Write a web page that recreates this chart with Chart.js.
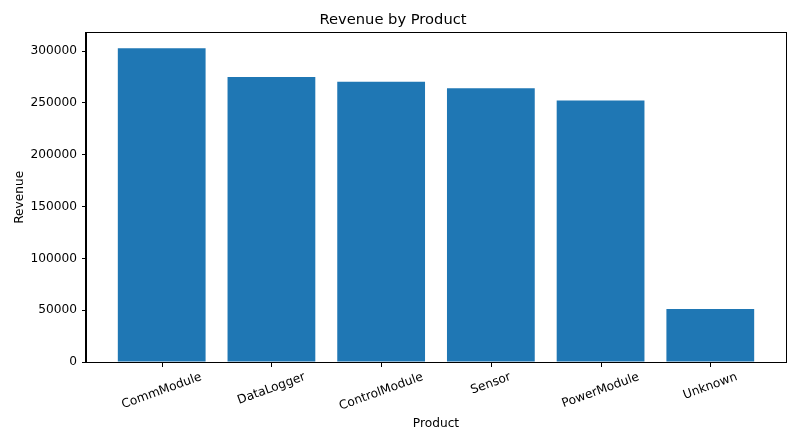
<!DOCTYPE html>
<html>
<head>
<meta charset="utf-8">
<script src="https://cdn.jsdelivr.net/npm/chart.js@4.4.1/dist/chart.umd.min.js"></script>
<style>
  body { margin: 0; background: #fff; }
  #wrap { width: 800px; height: 444px; position: relative; }
</style>
</head>
<body>
<div id="wrap"><canvas id="myChart"></canvas></div>
<script>
const products = ['CommModule', 'DataLogger', 'ControlModule', 'Sensor', 'PowerModule', 'Unknown'];
const revenue = [302600, 274900, 270400, 264200, 252300, 51200];
const yTicks = [0, 50000, 100000, 150000, 200000, 250000, 300000];

const FONT = "'DejaVu Sans', sans-serif";
const BLUE = '#1f77b4';
const TICK_SIZE = 12.2;

// matplotlib style x ticks + labels: rotated 20deg, centred under each tick
const rotatedLabels = {
    id: 'rotatedLabels',
    afterDraw(chart) {
        const c = chart.ctx;
        const xs = chart.scales.x;
        const ca = chart.chartArea;
        const a = 20 * Math.PI / 180;
        const size = TICK_SIZE;
        c.save();
        c.fillStyle = '#000';
        products.forEach(function(p, i) {
            const x = Math.round(xs.getPixelForValue(i));
            c.fillRect(x, Math.round(ca.bottom), 1, 5);
        });
        c.font = size + 'px ' + FONT;
        c.textAlign = 'center';
        c.textBaseline = 'middle';
        products.forEach(function(p, i) {
            const w = c.measureText(p).width;
            const h = size * 1.15;
            const boxH = w * Math.sin(a) + h * Math.cos(a);
            const x = xs.getPixelForValue(i);
            const y = ca.bottom + 8 + boxH / 2;
            c.save();
            c.translate(x, y);
            c.rotate(-a);
            c.fillText(p, 0, 0);
            c.restore();
        });
        // frame (top/right spines)
        c.strokeStyle = '#000';
        c.lineWidth = 1;
        c.strokeRect(Math.round(ca.left) - 0.5, Math.round(ca.top) - 0.5,
            Math.round(ca.right - ca.left) + 1, Math.round(ca.bottom - ca.top) + 1);
        c.restore();
    }
};

let ctx = document.getElementById('myChart');

let myChart = new Chart(ctx, {
    type: 'bar',
    data: {
        datasets: [{
            label: 'Revenue',
            data: revenue.map(function(v, i) { return { x: i, y: v }; }),
            backgroundColor: BLUE,
            borderWidth: 0,
            categoryPercentage: 1.0,
            barPercentage: 0.8
        }]
    },
    options: {
        responsive: true,
        maintainAspectRatio: false,
        devicePixelRatio: 1,
        animation: false,
        layout: {
            padding: { left: 0, right: 14, top: 0, bottom: 0 }
        },
        plugins: {
            legend: { display: false },
            tooltip: { enabled: false },
            title: {
                display: true,
                text: 'Revenue by Product',
                color: '#000',
                font: { family: FONT, size: 14.7, weight: 'normal' },
                padding: { top: 11, bottom: 4 }
            }
        },
        scales: {
            x: {
                type: 'linear',
                min: -0.69,
                max: 5.69,
                offset: false,
                afterFit: function(scale) { scale.height = 82; },
                ticks: {
                    display: false,
                    stepSize: 1,
                    includeBounds: false
                },
                grid: { display: false },
                border: { display: true, color: '#000', width: 1 },
                title: {
                    display: true,
                    text: 'Product',
                    color: '#000',
                    font: { family: FONT, size: TICK_SIZE },
                    padding: { top: 0, bottom: 13 }
                }
            },
            y: {
                min: 0,
                max: 317730,
                afterFit: function(scale) { scale.width = 86; },
                afterBuildTicks: function(scale) {
                    scale.ticks = yTicks.map(function(v) { return { value: v }; });
                },
                ticks: {
                    color: '#000',
                    font: { family: FONT, size: TICK_SIZE },
                    padding: 5,
                    callback: function(v) { return String(v); }
                },
                grid: {
                    display: true,
                    drawOnChartArea: false,
                    drawTicks: true,
                    tickLength: 4,
                    color: '#000'
                },
                border: { display: true, color: '#000', width: 1 },
                title: {
                    display: true,
                    text: 'Revenue',
                    color: '#000',
                    font: { family: FONT, size: TICK_SIZE },
                    padding: { top: 13, bottom: 0 }
                }
            }
        }
    },
    plugins: [rotatedLabels]
});
</script>
</body>
</html>
